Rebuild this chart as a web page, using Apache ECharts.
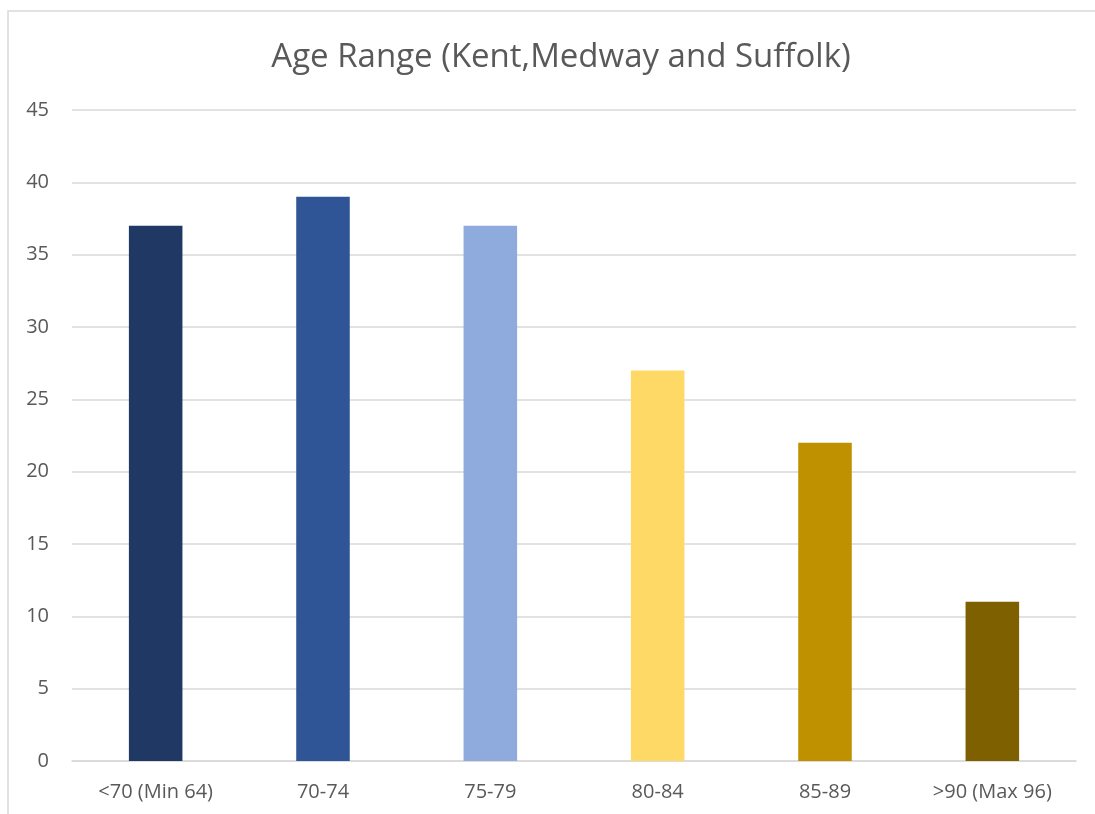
<!DOCTYPE html>
<html>
<head>
<meta charset="utf-8">
<script src="https://cdn.jsdelivr.net/npm/echarts@6/dist/echarts.min.js"></script>
<style>
  html, body { margin: 0; padding: 0; background: #fff; }
  #main { width: 1095px; height: 814px; }
</style>
</head>
<body>
<div id="main"></div>
<script>
var categories = ['<70 (Min 64)', '70-74', '75-79', '80-84', '85-89', '>90 (Max 96)'];
var counts = [37, 39, 37, 27, 22, 11];
var barColors = ['#203864', '#2F5597', '#8FAADC', '#FFD966', '#BF9000', '#7F6000'];
var yTicks = { min: 0, max: 45, interval: 5 };

var chartDom = document.getElementById('main');
var myChart = echarts.init(chartDom);
var option;

var fontFam = '"Open Sans", "Liberation Sans", sans-serif';

option = {
    animation: false,
    backgroundColor: '#fff',
    graphic: [{
        type: 'rect',
        shape: { x: 8, y: 11, width: 1200, height: 900 },
        style: { fill: 'none', stroke: '#d9d9d9', lineWidth: 1.5 },
        z: -1
    }],
    title: {
        text: 'Age Range (Kent,Medway and Suffolk)',
        left: 556,
        top: 36,
        textAlign: 'center',
        textStyle: { color: '#595959', fontSize: 33, fontWeight: 'normal', fontFamily: fontFam }
    },
    grid: { left: 72, right: 19, top: 110, bottom: 53 },
    xAxis: {
        type: 'category',
        data: categories,
        axisLine: { lineStyle: { color: '#d9d9d9', width: 1.5 } },
        axisTick: { show: false },
        axisLabel: { color: '#595959', fontSize: 20, fontFamily: fontFam, margin: 21, interval: 0 }
    },
    yAxis: {
        type: 'value',
        min: yTicks.min,
        max: yTicks.max,
        interval: yTicks.interval,
        axisLine: { show: false },
        axisTick: { show: false },
        splitLine: { lineStyle: { color: '#d9d9d9', width: 1.5 } },
        axisLabel: { color: '#595959', fontSize: 20, fontFamily: fontFam, margin: 23 }
    },
    series: [{
        type: 'bar',
        data: counts.map(function (v, i) {
            return { value: v, itemStyle: { color: barColors[i] } };
        }),
        barWidth: '32%'
    }]
};

option && myChart.setOption(option);

window.addEventListener('resize', function () {
    myChart.resize();
});
</script>
</body>
</html>
